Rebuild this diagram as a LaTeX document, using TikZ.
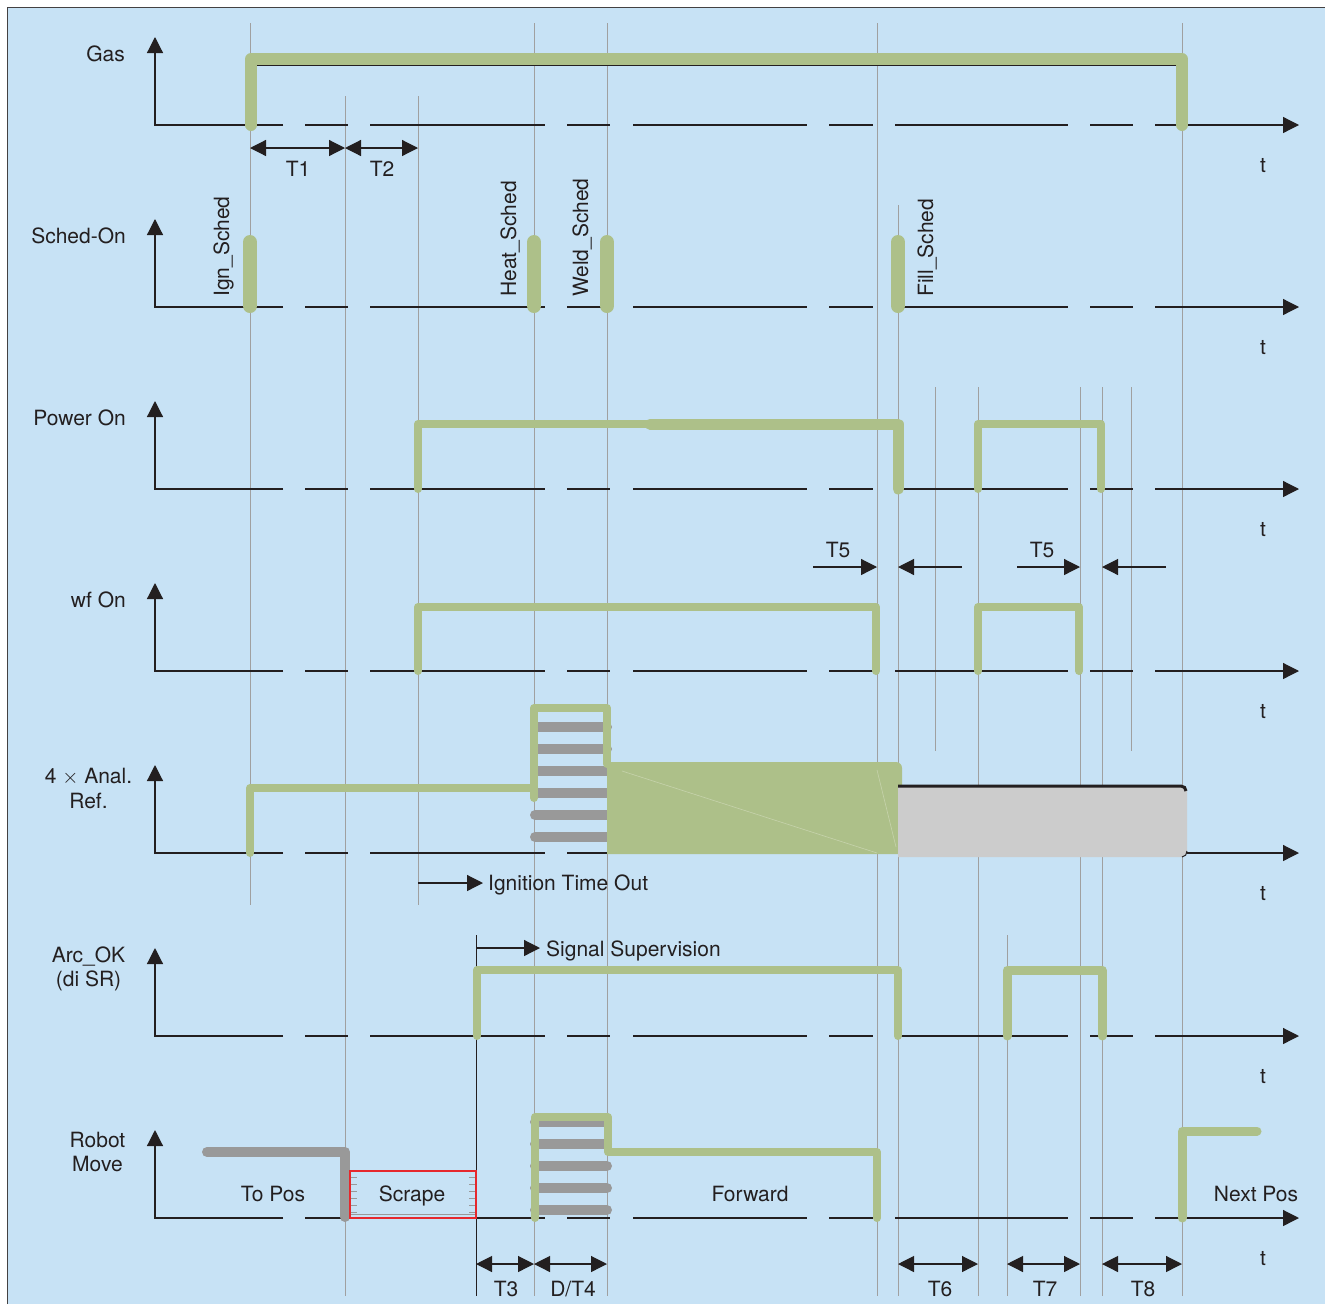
\documentclass[tikz,border=0pt]{standalone}
\usepackage{fontspec}
\setmainfont{TeX Gyre Heros}
\usetikzlibrary{arrows.meta}
\definecolor{bgblue}{RGB}{199,226,245}
\definecolor{siggreen}{RGB}{173,192,137}
\definecolor{bargrey}{RGB}{153,153,153}
\definecolor{markgrey}{RGB}{160,160,160}
\definecolor{fillgrey}{RGB}{204,204,204}
\definecolor{ink}{RGB}{35,31,32}
\definecolor{scrapered}{RGB}{230,40,45}
\begin{document}
\begin{tikzpicture}[x=1pt,y=-1pt,font=\fontsize{21}{24}\selectfont]
  \tikzstyle{every node}=[text=ink,inner sep=0pt]
  \tikzstyle{taxis}=[ink,line width=1.2pt]
  \tikzstyle{axisarrow}=[-{Triangle[length=16pt,width=16pt]}]
  \tikzstyle{dimline}=[ink,line width=1.2pt,
  {Triangle[length=16pt,width=16pt]}-{Triangle[length=16pt,width=16pt]}]
  \tikzstyle{markline}=[markgrey,line width=1pt]
  \tikzstyle{sig}=[siggreen,line width=8pt,line cap=round,line join=round]
  \tikzstyle{hatchbar}=[bargrey,line width=10pt,line cap=round]
  \tikzstyle{robotpath}=[bargrey,line width=10pt,line cap=round,line join=round]

  \useasboundingbox (0,0) rectangle (1325,1304);
  \fill[bgblue] (7,7) rectangle (1325,1304);
  \draw[ink!85,line width=1.5pt] (7.5,1304) -- (7.5,7.5) -- (1325,7.5);

  \foreach \x/\ya/\yb in {250/23/905,345/96/1296,418/96/905,534/23/1296,
    607/23/1296,877/23/1296,898/205/1296,935/387/751,978/387/1296,
    1007/935/1296,1080/387/1296,1102/387/1296,1131/387/751,1182/23/1296}
    \draw[markline] (\x,\ya) -- (\x,\yb);
  \draw[ink,line width=1pt] (476,935) -- (476,1296);

  \foreach \y in {125,307,489,671,853,1036,1218} {
    \draw[taxis,axisarrow] (283,\y) -- (155,\y) -- (155,\y-88);
    \foreach \a/\b in {305/348,370/545,567/610,633/807,829/873,895/1068,1090/1133}
      \draw[taxis] (\a,\y) -- (\b,\y);
    \draw[taxis,axisarrow] (1155,\y) -- (1299,\y);
    \node[anchor=base] (t\y) at (1263,\y+47) {t};
  }

  \node[anchor=base east] (gas) at (125,61) {Gas};
  \node[anchor=base east] (sched) at (126,243) {Sched-On};
  \node[anchor=base east] (power) at (126,425) {Power On};
  \node[anchor=base east] (wf) at (126,607) {wf On};
  \node[anchor=base] (anal) at (88.5,783) {4 $\times$ Anal.};
  \node[anchor=base] (ref) at (88.5,808) {Ref.};
  \node[anchor=base] (arcok) at (88.5,962) {Arc\_OK};
  \node[anchor=base] (disr) at (88.5,986) {(di SR)};
  \node[anchor=base] (robot) at (97.5,1147) {Robot};
  \node[anchor=base] (move) at (97.5,1171) {Move};

  % Gas
  \draw[sig,line width=12pt] (251,125) -- (251,59) -- (1182,59) -- (1182,125);
  \draw[ink,line width=1pt] (257,65) -- (1176,65);
  \draw[dimline] (250,148) -- (345,148);
  \draw[dimline] (345,148) -- (418,148);
  \node[anchor=base] (tone) at (298,176) {T1};
  \node[anchor=base] (ttwo) at (382,176) {T2};

  % Sched-On
  \foreach \x in {250,534,607,898}
    \draw[sig,line width=14pt] (\x,242) -- (\x,306);
  \node[rotate=90,anchor=base west] (ign) at (229,297) {Ign\_Sched};
  \node[rotate=90,anchor=base west] (heat) at (516,297) {Heat\_Sched};
  \node[rotate=90,anchor=base west] (weld) at (588,297) {Weld\_Sched};
  \node[rotate=90,anchor=base west] (fill) at (933,297) {Fill\_Sched};

  % Power On
  \draw[sig] (418,489) -- (418,424) -- (650,424);
  \draw[sig,line width=11pt] (650,424) -- (898,424) -- (898,489);
  \draw[sig] (978,489) -- (978,424) -- (1101,424) -- (1101,489);
  \node[anchor=base] (tfivea) at (838,557) {T5};
  \node[anchor=base] (tfiveb) at (1042,557) {T5};
  \draw[taxis,axisarrow] (813,567) -- (877,567);
  \draw[taxis,axisarrow] (962,567) -- (898,567);
  \draw[taxis,axisarrow] (1017,567) -- (1080,567);
  \draw[taxis,axisarrow] (1166,567) -- (1102,567);

  % wf On
  \draw[sig] (418,671) -- (418,607) -- (876,607) -- (876,671);
  \draw[sig] (978,671) -- (978,607) -- (1079,607) -- (1079,671);

  % 4 x Anal. Ref.
  \foreach \y in {727,749,771,793,815,837}
    \draw[hatchbar] (535,\y) -- (607,\y);
  \fill[siggreen] (607,762) -- (896,762) to[out=0,in=90] (902,768)
    -- (902,854) -- (607,854) -- cycle;
  \draw[siggreen!70!white,line width=0.6pt] (622,771) -- (877,853);
  \draw[siggreen!70!white,line width=0.6pt] (877,770) -- (896,847);
  \draw[sig] (250,853) -- (250,788) -- (534,788);
  \draw[sig] (534,798) -- (534,708) -- (607,708) -- (607,764);
  \fill[fillgrey] (898,785) -- (1182,785) to[out=0,in=90] (1187,790)
    -- (1187,852) to[out=-90,in=0] (1182,857) -- (898,857) -- cycle;
  \draw[ink,line width=3pt] (898,786) -- (1181,786) to[out=0,in=90] (1186,791);
  \draw[ink,line width=1pt] (1187,851) to[out=-90,in=0] (1182,857);
  \draw[taxis,axisarrow] (418,883) -- (483,883);
  \node[anchor=base west] (igto) at (488,890) {Ignition Time Out};

  % Arc_OK
  \draw[sig] (477,1036) -- (477,970) -- (898,970) -- (898,1036);
  \draw[sig,line width=9pt] (1007,1036) -- (1007,970) -- (1102,970) -- (1102,1036);
  \draw[taxis,axisarrow] (476,948) -- (540,948);
  \node[anchor=base west] (sigsup) at (546,956) {Signal Supervision};

  % Robot Move
  \draw[robotpath] (207,1152) -- (345,1152) -- (345,1217);
  \draw[scrapered,line width=1.2pt] (350,1171) rectangle (476,1218);
  \foreach \y in {1177,1184,1191,1198,1205,1212} {
    \draw[bargrey,line width=0.6pt] (351,\y) -- (357,\y);
    \draw[bargrey,line width=0.6pt] (469,\y) -- (475,\y);
  }
  \draw[bargrey,line width=0.8pt] (351,1214) -- (475,1214);
  \foreach \y in {1122,1144,1166,1188,1210}
    \draw[hatchbar] (535,\y) -- (607,\y);
  \draw[sig] (535,1218) -- (535,1117) -- (608,1117) -- (608,1152)
    -- (877,1152) -- (877,1218);
  \draw[sig,line width=9pt] (1182,1218) -- (1182,1131) -- (1257,1131);
  \node[anchor=base] (topos) at (273,1201) {To Pos};
  \node[anchor=base] (scrape) at (412,1201) {Scrape};
  \node[anchor=base] (forward) at (750,1201) {Forward};
  \node[anchor=base] (nextpos) at (1256,1201) {Next Pos};

  \draw[dimline] (476,1264) -- (534,1264);
  \draw[dimline] (534,1264) -- (607,1264);
  \draw[dimline] (898,1264) -- (978,1264);
  \draw[dimline] (1007,1264) -- (1080,1264);
  \draw[dimline] (1102,1264) -- (1182,1264);
  \node[anchor=base] (tthree) at (506,1296) {T3};
  \node[anchor=base] (dtfour) at (573,1296) {D/T4};
  \node[anchor=base] (tsix) at (940,1296) {T6};
  \node[anchor=base] (tseven) at (1045,1296) {T7};
  \node[anchor=base] (teight) at (1143,1296) {T8};
\end{tikzpicture}
\end{document}
